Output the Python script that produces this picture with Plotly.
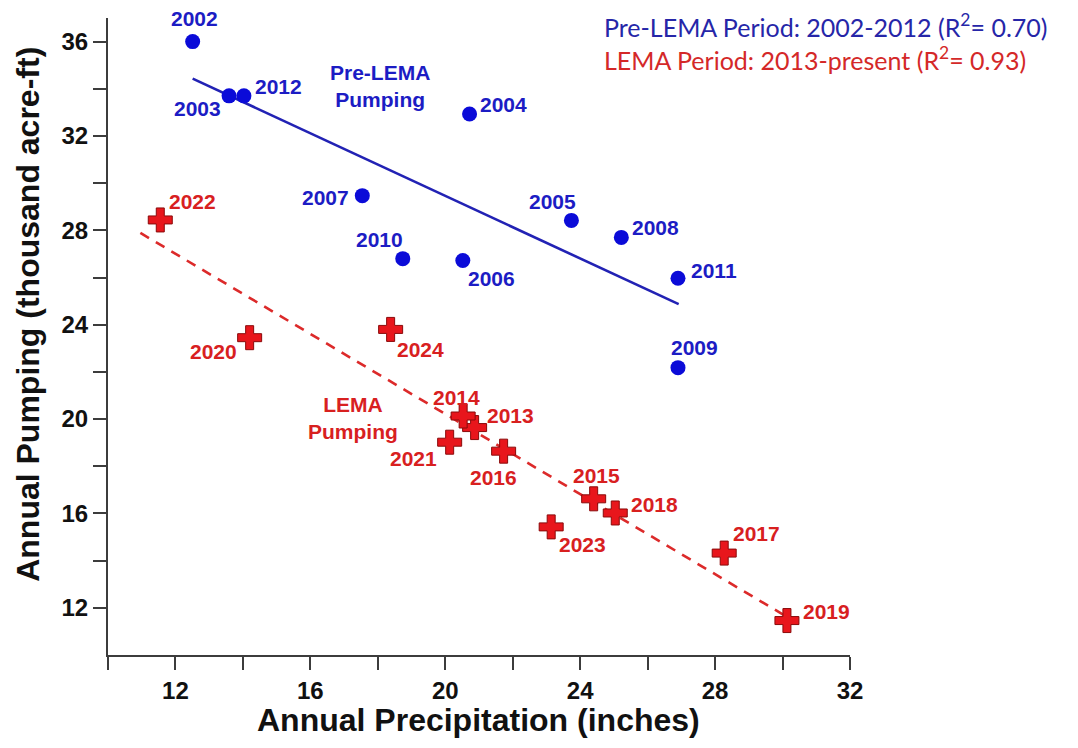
import plotly.graph_objects as go

# ---- data ----
pre_years = ["2002", "2003", "2012", "2004", "2007", "2005", "2008", "2010", "2006", "2011", "2009"]
pre_precip = [12.51, 13.59, 14.03, 20.72, 17.54, 23.74, 25.22, 18.74, 20.52, 26.90, 26.90]
pre_pump = [36.00, 33.70, 33.70, 32.93, 29.47, 28.42, 27.70, 26.80, 26.72, 25.97, 22.18]

lema_years = ["2013", "2014", "2015", "2016", "2017", "2018", "2019", "2020", "2021", "2022", "2023", "2024"]
lema_precip = [20.87, 20.53, 24.40, 21.73, 28.27, 25.04, 30.13, 14.20, 20.13, 11.55, 23.14, 18.38]
lema_pump = [19.64, 20.13, 16.62, 18.64, 14.32, 16.02, 11.46, 23.45, 19.02, 28.44, 15.43, 23.80]

pre_fit_x = [12.51, 26.92]
pre_fit_y = [34.43, 24.87]
lema_fit_x = [10.96, 30.15]
lema_fit_y = [27.89, 11.60]

x_ticks = [10, 12, 14, 16, 18, 20, 22, 24, 26, 28, 30, 32]
x_ticktext = ["", "12", "", "16", "", "20", "", "24", "", "28", "", "32"]
y_ticks = [12, 14, 16, 18, 20, 22, 24, 26, 28, 30, 32, 34, 36]
y_ticktext = ["12", "", "16", "", "20", "", "24", "", "28", "", "32", "", "36"]

pre_r2 = "0.70"
lema_r2 = "0.93"

# ---- label offsets (pixels, label centre relative to point) ----
label_offsets = {
    "2002": (2, -23), "2003": (-32, 13), "2012": (35, -9), "2004": (34, -10),
    "2007": (-37, 2), "2005": (-19, -19), "2008": (34, -10), "2010": (-23, -19),
    "2006": (29, 18), "2011": (36, -8), "2009": (17, -20),
    "2022": (32, -18), "2020": (-36, 14), "2024": (30, 20), "2014": (-7, -19),
    "2013": (36, -12), "2021": (-36, 16), "2016": (-10, 26), "2015": (3, -23),
    "2018": (39, -8), "2023": (31, 18), "2017": (32, -20), "2019": (40, -9),
}

BLUE_MK = "#0b0bd8"
BLUE_TXT = "#1c1cc4"
BLUE_LINE = "#2222b4"
RED_MK = "#e8161c"
RED_TXT = "#d8201f"
RED_LINE = "#dc2a2a"
AX = "#3c3c3c"
LBL_FONT = "Liberation Sans, Arial, sans-serif"
LBL_SIZE = 21

fig = go.Figure()

fig.add_trace(go.Scatter(
    x=pre_fit_x, y=pre_fit_y, mode="lines",
    line=dict(color=BLUE_LINE, width=2.6), showlegend=False, hoverinfo="skip"))
fig.add_trace(go.Scatter(
    x=lema_fit_x, y=lema_fit_y, mode="lines",
    line=dict(color=RED_LINE, width=2.6, dash="10px,8px"), showlegend=False, hoverinfo="skip"))

fig.add_trace(go.Scatter(
    x=pre_precip, y=pre_pump, mode="markers", name="Pre-LEMA",
    marker=dict(symbol="circle", size=15, color=BLUE_MK, line=dict(width=0)),
    text=pre_years, showlegend=False))
fig.add_trace(go.Scatter(
    x=lema_precip, y=lema_pump, mode="markers", name="LEMA",
    marker=dict(symbol="cross", size=20, color=RED_MK, line=dict(width=1, color="#8a0a0a")),
    text=lema_years, showlegend=False))

annotations = []
for yr, xv, yv in zip(pre_years, pre_precip, pre_pump):
    dx, dy = label_offsets[yr]
    annotations.append(dict(x=xv, y=yv, xref="x", yref="y", text=yr, showarrow=False,
                            xshift=dx, yshift=-dy,
                            font=dict(family=LBL_FONT, size=LBL_SIZE, color=BLUE_TXT, weight="bold")))
for yr, xv, yv in zip(lema_years, lema_precip, lema_pump):
    dx, dy = label_offsets[yr]
    annotations.append(dict(x=xv, y=yv, xref="x", yref="y", text=yr, showarrow=False,
                            xshift=dx, yshift=-dy,
                            font=dict(family=LBL_FONT, size=LBL_SIZE, color=RED_TXT, weight="bold")))

# group labels
annotations.append(dict(x=0.367, y=0.935, xref="paper", yref="paper", showarrow=False,
                        text="Pre-LEMA<br>Pumping", align="center",
                        font=dict(family=LBL_FONT, size=LBL_SIZE, color=BLUE_TXT, weight="bold")))
annotations.append(dict(x=0.267, y=0.372, xref="paper", yref="paper", showarrow=False,
                        text="LEMA<br>Pumping", align="center",
                        font=dict(family=LBL_FONT, size=LBL_SIZE, color=RED_TXT, weight="bold")))

# period / R² text (top right)
annotations.append(dict(x=0.667, y=0.989, xref="paper", yref="paper", showarrow=False,
                        xanchor="left", yanchor="middle", borderpad=0,
                        text=f"Pre-LEMA Period: 2002-2012 (R<sup>2</sup>= {pre_r2})",
                        font=dict(family="Lato, sans-serif", size=25, color="#2626a8")))
annotations.append(dict(x=0.667, y=0.936, xref="paper", yref="paper", showarrow=False,
                        xanchor="left", yanchor="middle", borderpad=0,
                        text=f"LEMA Period: 2013-present (R<sup>2</sup>= {lema_r2})",
                        font=dict(family="Lato, sans-serif", size=25, color="#d42828")))

# axis titles
annotations.append(dict(x=0.499, y=-0.102, xref="paper", yref="paper", showarrow=False,
                        xanchor="center", yanchor="middle",
                        text="Annual Precipitation (inches)",
                        font=dict(family=LBL_FONT, size=32, color="#111111", weight="bold")))
annotations.append(dict(x=-0.107, y=0.535, xref="paper", yref="paper", showarrow=False,
                        xanchor="center", yanchor="middle", textangle=-90,
                        text="Annual Pumping (thousand acre-ft)",
                        font=dict(family=LBL_FONT, size=32, color="#111111", weight="bold")))

# page body has an 8px default margin, so the figure is 8px smaller and margins shifted
fig.update_layout(
    width=1070, height=740,
    margin=dict(l=100, r=228, t=10, b=93, autoexpand=False),
    paper_bgcolor="white", plot_bgcolor="white",
    showlegend=False,
    annotations=annotations,
)
fig.update_xaxes(
    range=[10, 32], tickvals=x_ticks, ticktext=x_ticktext,
    showgrid=False, zeroline=False, showline=True, linecolor=AX, linewidth=2,
    ticks="outside", ticklen=13, tickwidth=2, tickcolor=AX,
    tickfont=dict(family=LBL_FONT, size=24, color="#111111", weight="bold"),
)
fig.update_yaxes(
    range=[10, 37], tickvals=y_ticks, ticktext=y_ticktext,
    showgrid=False, zeroline=False, showline=True, linecolor=AX, linewidth=2,
    ticks="outside", ticklen=13, tickwidth=2, tickcolor=AX,
    tickfont=dict(family=LBL_FONT, size=24, color="#111111", weight="bold"),
)

fig.write_html("out.html")
